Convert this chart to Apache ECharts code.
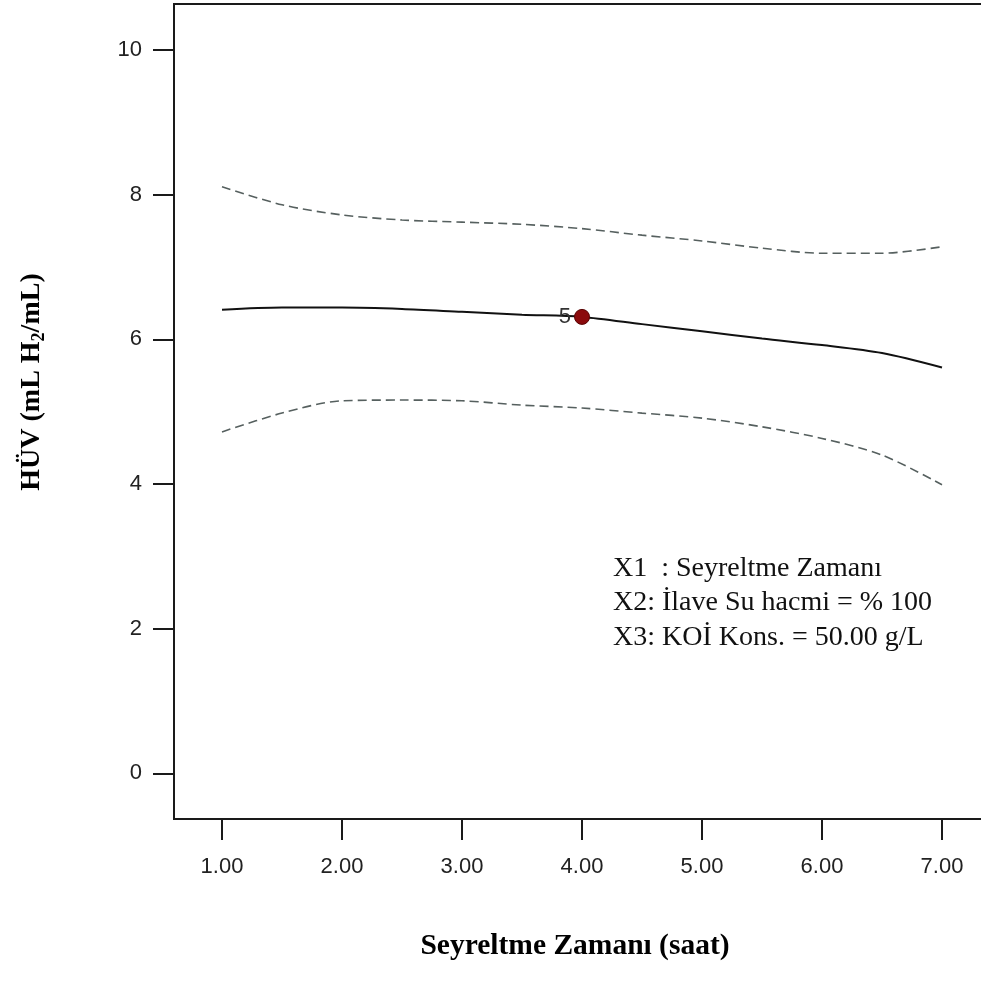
<!DOCTYPE html>
<html>
<head>
<meta charset="utf-8">
<script src="https://cdn.jsdelivr.net/npm/echarts@6/dist/echarts.min.js"></script>
<style>html,body{margin:0;padding:0;background:#fff;overflow:hidden}#c{width:981px;height:990px}</style>
</head>
<body>
<div id="c"></div>
<script>
// Data
var xValues = [1.0, 1.5, 2.0, 2.5, 3.0, 3.5, 4.0, 4.5, 5.0, 5.5, 6.0, 6.5, 7.0];
var predicted = [6.41, 6.44, 6.44, 6.42, 6.38, 6.34, 6.31, 6.21, 6.11, 6.01, 5.92, 5.81, 5.61];
var upperBand = [8.11, 7.86, 7.72, 7.65, 7.62, 7.59, 7.53, 7.44, 7.36, 7.26, 7.19, 7.19, 7.28];
var lowerBand = [4.72, 4.98, 5.15, 5.16, 5.15, 5.09, 5.05, 4.98, 4.91, 4.79, 4.63, 4.40, 3.99];
var designPoint = [4.0, 6.31];
var designPointLabel = '5';
var xTicks = [1, 2, 3, 4, 5, 6, 7];
var yTicks = [0, 2, 4, 6, 8, 10];
var legendLines = ['X1  : Seyreltme Zamanı', 'X2: İlave Su hacmi = % 100', 'X3: KOİ Kons. = 50.00 g/L'];
var xTitle = 'Seyreltme Zamanı (saat)';

function pairs(xs, ys) { return xs.map(function (x, i) { return [x, ys[i]]; }); }

var chart = echarts.init(document.getElementById('c'), null, {renderer: 'canvas'});
var dashStyle = {color: '#56605f', width: 1.6, type: [9, 5]};
chart.setOption({
  animation: false,
  backgroundColor: '#ffffff',
  grid: {left: 174, top: 4, width: 816, height: 815, outerBoundsMode: 'none', containLabel: false,
    show: true, borderColor: '#1a1a1a', borderWidth: 2, backgroundColor: 'transparent'},
  xAxis: {
    type: 'value', min: 0.6, max: 7.4,
    splitLine: {show: false},
    axisLine: {show: false, onZero: false},
    axisTick: {show: true, length: 21, customValues: xTicks, lineStyle: {color: '#1a1a1a', width: 2}},
    axisLabel: {customValues: xTicks, margin: 37, fontFamily: 'Liberation Sans, Arial, sans-serif', fontSize: 22, color: '#222',
      formatter: function (v) { return v.toFixed(2); }}
  },
  yAxis: {
    type: 'value', min: -0.632, max: 10.636,
    splitLine: {show: false},
    axisLine: {show: false, onZero: false},
    axisTick: {show: true, length: 21, customValues: yTicks, lineStyle: {color: '#1a1a1a', width: 2}},
    axisLabel: {customValues: yTicks, margin: 32, fontFamily: 'Liberation Sans, Arial, sans-serif', fontSize: 22, color: '#222'}
  },
  series: [
    {type: 'line', data: pairs(xValues, upperBand), smooth: 0.3, symbol: 'none', lineStyle: dashStyle, z: 2},
    {type: 'line', data: pairs(xValues, lowerBand), smooth: 0.3, symbol: 'none', lineStyle: dashStyle, z: 2},
    {type: 'line', data: pairs(xValues, predicted), smooth: 0.3, symbol: 'none', lineStyle: {color: '#111', width: 2}, z: 3},
    {type: 'scatter', data: [designPoint], symbolSize: 15, itemStyle: {color: '#8b0a0c', opacity: 1, borderColor: '#5a0505', borderWidth: 1}, z: 5,
      label: {show: true, position: 'left', distance: 3, formatter: designPointLabel, fontFamily: 'Liberation Sans, Arial, sans-serif', fontSize: 22, color: '#333'}}
  ],
  graphic: [
    {type: 'text', left: 613, top: 551, style: {text: legendLines.join('\n'), font: '28px "Liberation Serif", "Times New Roman", serif', lineHeight: 34.5, fill: '#111'}},
    {type: 'text', x: 575, y: 946, style: {text: xTitle, font: 'bold 29.5px "Liberation Serif", "Times New Roman", serif', fill: '#000', align: 'center', verticalAlign: 'middle'}},
    {type: 'text', x: 32, y: 382, rotation: Math.PI / 2,
      style: {text: 'HÜV (mL H{sub|2}/mL)', font: 'bold 28px "Liberation Serif", "Times New Roman", serif', fill: '#000', align: 'center', verticalAlign: 'middle',
        rich: {sub: {font: 'bold 18px "Liberation Serif", "Times New Roman", serif', fill: '#000', padding: [14, 0, 0, 0]}}}}
  ]
});
</script>
</body>
</html>
